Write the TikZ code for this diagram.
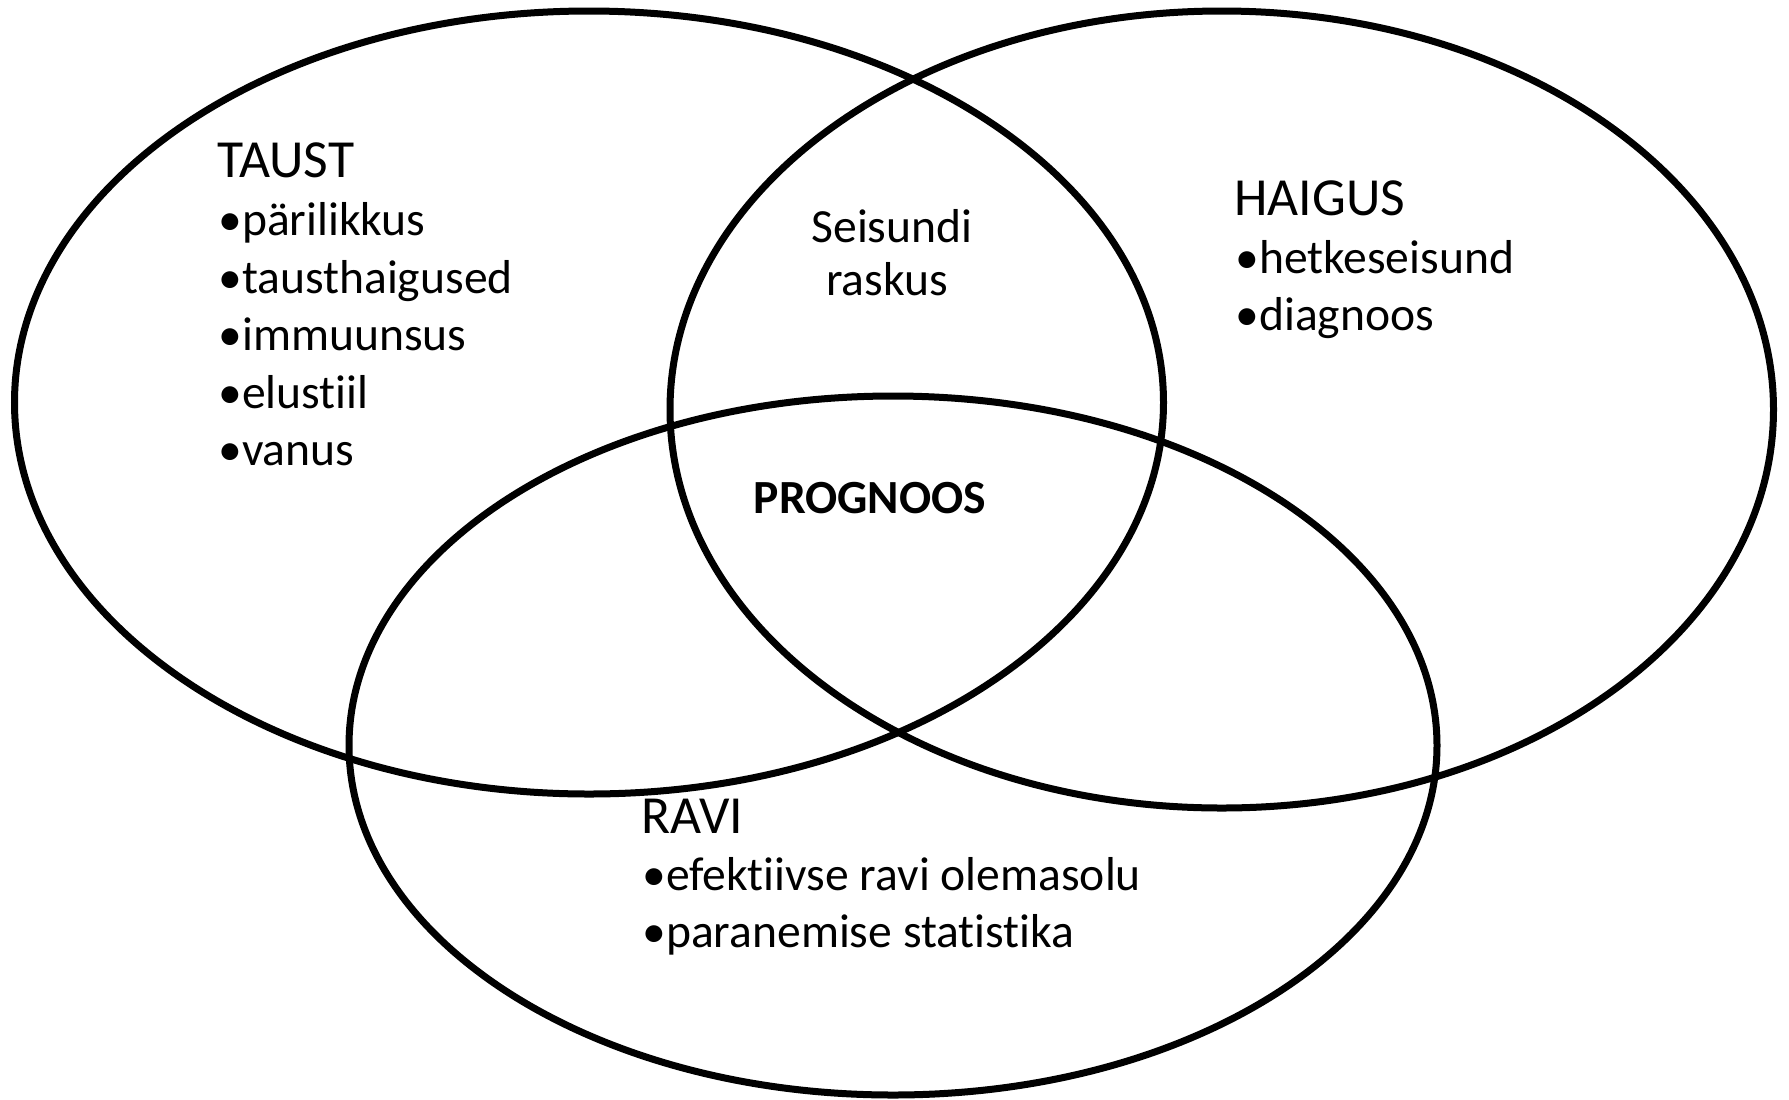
\documentclass[tikz,border=0pt]{standalone}
\usepackage{fontspec}
\setmainfont{Carlito}[Ligatures={NoCommon,NoContextual}]
\begin{document}
\begin{tikzpicture}[x=0.5pt,y=-0.5pt,
  ring/.style={draw=black,line width=3.5pt},
  lbl/.style={font=\fontsize{23.8}{28}\selectfont,anchor=base west,inner sep=0pt},
  hlbl/.style={font=\fontsize{26.8}{32}\selectfont,anchor=base west,inner sep=0pt},
  clbl/.style={font=\fontsize{23.8}{28}\selectfont,anchor=base,inner sep=0pt},
  blbl/.style={font=\fontsize{23.8}{28}\selectfont\bfseries,anchor=base,inner sep=0pt}]
\useasboundingbox (0,0) rectangle (1789,1099);
\fill[white] (0,0) rectangle (1789,1099);
% circles
\coordinate (cT) at (589,402.5);
\coordinate (cH) at (1221.75,409.5);
\coordinate (cR) at (893,745.5);
\draw[ring] (cT) ellipse [x radius=574.5, y radius=391.5];
\draw[ring] (cH) ellipse [x radius=551.75, y radius=398.5];
\draw[ring] (cR) ellipse [x radius=544, y radius=349.5];
% TAUST
\node[hlbl] (taust) at (217,177) {TAUST};
\node[lbl] (t1) at (218,235) {•pärilikkus};
\node[lbl] (t2) at (218,293) {•tausthaigused};
\node[lbl] (t3) at (218,350) {•immuunsus};
\node[lbl] (t4) at (218,408) {•elustiil};
\node[lbl] (t5) at (218,465) {•vanus};
% HAIGUS
\node[hlbl] (haigus) at (1234,215) {HAIGUS};
\node[lbl] (h1) at (1235,273) {•hetkeseisund};
\node[lbl] (h2) at (1235,330) {•diagnoos};
% middle
\node[clbl] (s1) at (892,242) {Seisundi};
\node[clbl] (s2) at (887,295) {raskus};
\node[blbl] (prog) at (870,513) {PROGNOOS};
% RAVI
\node[hlbl] (ravi) at (641,833) {RAVI};
\node[lbl] (r1) at (642,890) {•efektiivse ravi olemasolu};
\node[lbl] (r2) at (642,947) {•paranemise statistika};
\end{tikzpicture}
\end{document}
